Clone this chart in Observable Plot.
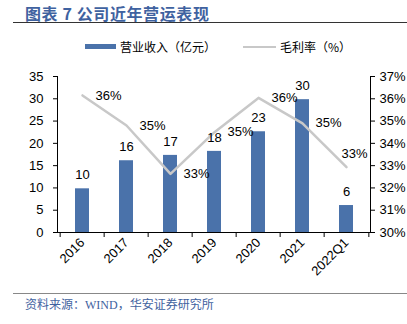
<!DOCTYPE html>
<html><head><meta charset="utf-8">
<script src="https://cdn.jsdelivr.net/npm/d3@7"></script>
<script src="https://cdn.jsdelivr.net/npm/@observablehq/plot@0.6"></script>
<style>
html,body{margin:0;padding:0;background:#fff;}
#wrap{position:relative;width:407px;height:324px;overflow:hidden;font-family:"Liberation Sans",Arial,"Noto Sans CJK SC",sans-serif;}
.abs{position:absolute;white-space:nowrap;}
#title{left:25px;top:3px;font-size:16px;font-weight:bold;color:#3f62a0;letter-spacing:0.6px;font-family:"Noto Sans CJK SC",sans-serif;line-height:20px;}
#rule1{left:13px;top:22px;width:394px;height:0;border-top:1.5px solid #333;}
#rule2{left:13px;top:293px;width:394px;height:0;border-top:1.5px solid #888;}
#foot{left:25px;top:297px;font-size:12px;color:#3f62a0;font-family:"Liberation Serif","Noto Sans CJK SC",serif;line-height:16px;}
.sw{position:absolute;}
.lg{font-size:12px;font-family:"Noto Sans CJK SC",sans-serif;color:#000;line-height:16px;}
#chart{position:absolute;left:0;top:60px;}
</style></head>
<body><div id="wrap">
<div id="title" class="abs">图表 7 公司近年营运表现</div>
<div id="rule1" class="abs"></div>
<div class="sw" style="left:85px;top:44px;width:31px;height:5px;background:#4a72aa"></div>
<div class="abs lg" style="left:120px;top:39px">营业收入（亿元）</div>
<div class="sw" style="left:243px;top:46px;width:33px;height:2px;background:#c8c8c8"></div>
<div class="abs lg" style="left:280px;top:39px">毛利率（%）</div>
<div id="chart"></div>
<div id="rule2" class="abs"></div>
<div id="foot" class="abs">资料来源：WIND，华安证券研究所</div>
</div>
<script>
const categories = ["2016","2017","2018","2019","2020","2021","2022Q1"];
const revenue = [9.8, 16.1, 17.3, 18.2, 22.6, 29.8, 6.05];
const revenueLabels = ["10","16","17","18","23","30","6"];
const grossMargin = [36.15, 34.8, 32.63, 34.5, 36.04, 34.9, 32.93];
const marginLabels = ["36%","35%","33%","35%","36%","35%","33%"];
const leftTicks = [0,5,10,15,20,25,30,35];
const rightTicks = [30,31,32,33,34,35,36,37];

// right axis (30%..37%) mapped onto the left scale (0..35)
const toLeft = p => (p - 30) * 5;
const fromLeft = v => v / 5 + 30;

const rows = categories.map((c, i) => ({
  cat: c, rev: revenue[i], revLabel: revenueLabels[i],
  gm: toLeft(grossMargin[i]), gmLabel: marginLabels[i], last: i === categories.length - 1
}));

const W = 407, H = 230, ML = 57, MR = 37;
const half = (W - ML - MR) / categories.length / 2;

const chart = Plot.plot({
  width: W, height: H,
  marginLeft: ML, marginRight: MR, marginTop: 16, marginBottom: 58,
  style: {fontFamily: "'Liberation Sans', Arial, sans-serif", fontSize: "13px", color: "#000", background: "transparent"},
  x: {type: "band", domain: categories, paddingInner: 0.69, paddingOuter: 0.345},
  y: {domain: [0, 35]},
  marks: [
    Plot.barY(rows, {x: "cat", y: "rev", fill: "#4a72aa"}),
    Plot.lineY(rows, {x: "cat", y: "gm", stroke: "#c8c8c8", strokeWidth: 2.5}),
    Plot.text(rows, {x: "cat", y: "rev", text: "revLabel", dy: -14, fontSize: 13, fill: "#000"}),
    Plot.text(rows.filter(d => !d.last), {x: "cat", y: "gm", text: "gmLabel", dx: 13, textAnchor: "start", fontSize: 13, fill: "#000"}),
    Plot.text(rows.filter(d => d.last), {x: "cat", y: "gm", text: "gmLabel", dx: 8, dy: -13, fontSize: 13, fill: "#000"}),
    Plot.axisY({anchor: "left", ticks: leftTicks, tickSize: 4, tickPadding: 10, label: null, fontSize: 13}),
    Plot.axisY({anchor: "right", ticks: rightTicks.map(toLeft), tickFormat: d => Math.round(fromLeft(d)) + "%", tickSize: 4, tickPadding: 5, label: null, fontSize: 13}),
    Plot.axisX({tickRotate: -45, tickSize: 0, tickPadding: 8, label: null, fontSize: 13}),
    Plot.axisX({text: null, tickSize: 5, dx: -half, label: null}),
    Plot.axisX({ticks: [categories[categories.length - 1]], text: null, tickSize: 5, dx: half, label: null}),
    Plot.frame({anchor: "left", stroke: "#000"}),
    Plot.frame({anchor: "right", stroke: "#000"}),
    Plot.ruleY([0], {stroke: "#000"})
  ]
});
document.getElementById("chart").appendChild(chart);
</script>
</body></html>
